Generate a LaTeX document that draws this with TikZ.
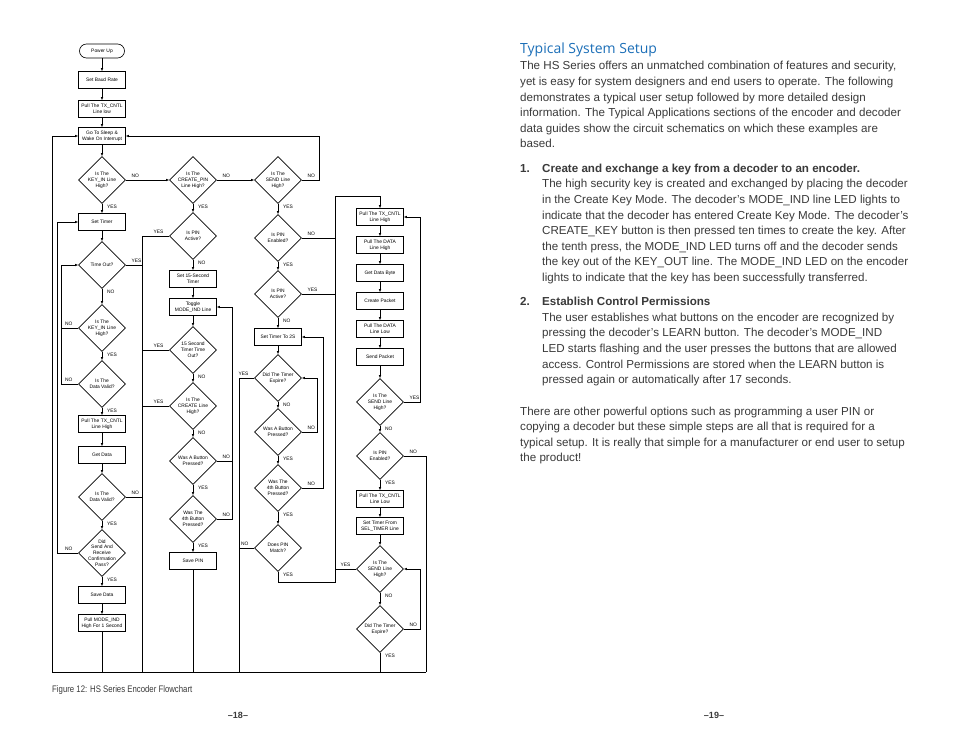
\documentclass[tikz,border=0pt]{standalone}
\usepackage{fontspec}
\setmainfont{Liberation Sans}
\newfontfamily\titlefont{Open Sans}
\newfontfamily\capfont[FakeStretch=0.82]{Liberation Sans}
\usetikzlibrary{shapes.geometric,arrows.meta,positioning}
\definecolor{TitleBlue}{HTML}{1C6FB8}
\definecolor{BodyGray}{HTML}{3A3A3A}

\tikzset{
  chartfont/.style={font=\fontsize{4.9}{5.8}\selectfont},
  procbox/.style={draw, line width=0.65pt, chartfont, align=center,
    minimum width=47pt, minimum height=17pt, inner sep=0.5pt},
  termbox/.style={procbox, rounded corners=7pt, minimum width=45pt, minimum height=14pt},
  decision/.style={diamond, draw, line width=0.65pt, minimum width=47pt,
    minimum height=47pt, inner sep=0pt, label={[chartfont, align=center]center:#1}},
  flow/.style={draw, line width=0.75pt, -{Latex[length=3pt,width=2.6pt]}},
  wire/.style={draw, line width=0.75pt},
  ans/.style={chartfont, inner sep=0.5pt},
  body/.style={inner sep=0pt, align=left, text=BodyGray, font=\fontsize{11.6}{15.6}\selectfont},
}

\begin{document}
\begin{tikzpicture}[x=1pt,y=-1pt]
  \path[fill=white,use as bounding box] (0,0) rectangle (954,738);

  % column 1
  \node[termbox] (pwr) at (102,51) {Power Up};
  \node[procbox] (baud) at (102,80) {Set Baud Rate};
  \node[procbox] (txlow) at (102,109) {Pull The TX\_CNTL\\Line low};
  \node[procbox] (sleep) at (102,136) {Go To Sleep \&\\Wake On Interrupt};
  \node[decision={Is The\\KEY\_IN Line\\High?}] (kin) at (102,180) {};
  \node[procbox] (settmr) at (102,222) {Set Timer};
  \node[decision={Time Out?}] (tout) at (102,265) {};
  \node[decision={Is The\\KEY\_IN Line\\High?}] (kin2) at (102,328) {};
  \node[decision={Is The\\Data Valid?}] (dval) at (102,384) {};
  \node[procbox] (txhigh) at (102,424) {Pull The TX\_CNTL\\Line High};
  \node[procbox] (getdata) at (102,455) {Get Data};
  \node[decision={Is The\\Data Valid?}] (dval2) at (102,497) {};
  \node[decision={Did\\Send And\\Receive\\Confirmation\\Pass?}] (conf) at (102,553) {};
  \node[procbox] (savedata) at (102,595) {Save Data};
  \node[procbox] (modeind) at (102,623) {Pull MODE\_IND\\High For 1 Second};

  % column 2
  \node[decision={Is The\\CREATE\_PIN\\Line High?}] (cpin) at (193,180) {};
  \node[decision={Is PIN\\Active?}] (pact) at (193,236) {};
  \node[procbox] (t15) at (193,279) {Set 15-Second\\Timer};
  \node[procbox] (toggle) at (193,307) {Toggle\\MODE\_IND Line};
  \node[decision={15 Second\\Timer Time\\Out?}] (t15out) at (193,350) {};
  \node[decision={Is The\\CREATE Line\\High?}] (cline) at (193,406) {};
  \node[decision={Was A Button\\Pressed?}] (btn) at (193,461) {};
  \node[decision={Was The\\4th Button\\Pressed?}] (btn4) at (193,519) {};
  \node[procbox] (savepin) at (193,561) {Save PIN};

  % column 3
  \node[decision={Is The\\SEND Line\\High?}] (send) at (278,180) {};
  \node[decision={Is PIN\\Enabled?}] (pen) at (278,238) {};
  \node[decision={Is PIN\\Active?}] (pact3) at (278,294) {};
  \node[procbox] (tmr2) at (278,337) {Set Timer To 2S};
  \node[decision={Did The Timer\\Expire?}] (expire) at (278,378) {};
  \node[decision={Was A Button\\Pressed?}] (btn3) at (278,432) {};
  \node[decision={Was The\\4th Button\\Pressed?}] (btn43) at (278,488) {};
  \node[decision={Does PIN\\Match?}] (match) at (278,548) {};

  % column 4
  \node[procbox] (txh4) at (380,217) {Pull The TX\_CNTL\\Line High};
  \node[procbox] (dhigh) at (380,245) {Pull The DATA\\Line High};
  \node[procbox] (getbyte) at (380,273) {Get Data Byte};
  \node[procbox] (packet) at (380,301) {Create Packet};
  \node[procbox] (dlow) at (380,329) {Pull The DATA\\Line Low};
  \node[procbox] (sendpkt) at (380,357) {Send Packet};
  \node[decision={Is The\\SEND Line\\High?}] (send4) at (380,402) {};
  \node[decision={Is PIN\\Enabled?}] (pen4) at (380,456) {};
  \node[procbox] (txlow4) at (380,499) {Pull The TX\_CNTL\\Line Low};
  \node[procbox] (seltmr) at (380,526) {Set Timer From\\SEL\_TIMER Line};
  \node[decision={Is The\\SEND Line\\High?}] (send42) at (380,569) {};
  \node[decision={Did The Timer\\Expire?}] (expire4) at (380,629) {};

  % frame back to sleep
  \coordinate (frBL) at (52,672);
  \coordinate (frTL) at (52,136);
  \coordinate (frBR) at (426,672);
  \coordinate (exitA) at (142,672);
  \coordinate (exitB) at (239,672);
  \coordinate (sendR) at (319,136);
  \coordinate (sendTop) at (335,196);

  % straight runs
  \foreach \a/\b in {pwr/baud,baud/txlow,txlow/sleep,sleep/kin,kin/settmr,settmr/tout,
      tout/kin2,kin2/dval,dval/txhigh,txhigh/getdata,getdata/dval2,dval2/conf,
      conf/savedata,savedata/modeind,kin/cpin,cpin/send,
      cpin/pact,pact/t15,t15/toggle,toggle/t15out,t15out/cline,cline/btn,btn/btn4,btn4/savepin,
      send/pen,pen/pact3,pact3/tmr2,tmr2/expire,expire/btn3,btn3/btn43,btn43/match,
      txh4/dhigh,dhigh/getbyte,getbyte/packet,packet/dlow,dlow/sendpkt,sendpkt/send4,
      send4/pen4,pen4/txlow4,txlow4/seltmr,seltmr/send42,send42/expire4}
    \draw[flow] (\a) -- (\b);

  \draw[flow] (frBR) -- (frBL) -- (frTL) -- (sleep.west);
  \draw[flow] (send.east) -| (sendR) -- (sleep.east);
  \draw[wire] (pen4.east) -| (frBR);
  \draw[wire] (modeind.south) -- (modeind.south |- frBL);
  \draw[wire] (savepin.south) -- (savepin.south |- frBL);
  \draw[wire] (expire4.south) -- (expire4.south |- frBL);

  % column 1 loops
  \draw[flow] (conf.west) -- ++(-20.5,0) |- (settmr.west);
  \draw[flow] (dval.west) -- ++(-16.5,0) |- (tout.west);
  \draw[wire] (kin2.west) -- ++(-16.5,0);

  % exits to sleep
  \draw[wire] (pact.west) -| (exitA);
  \foreach \d in {t15out,cline} \draw[wire] (\d.west) -- (\d.west -| exitA);
  \foreach \d in {tout,dval2} \draw[wire] (\d.east) -- (\d.east -| exitA);
  \draw[wire] (expire.west) -| (exitB);
  \draw[wire] (match.west) -- (match.west -| exitB);

  % column 2 and 3 loops
  \draw[flow] (btn4.east) -- ++(15.5,0) |- (toggle.east);
  \draw[wire] (btn.east) -- ++(15.5,0);
  \draw[flow] (btn3.east) -- ++(15.5,0) |- (expire.east);
  \draw[flow] (btn43.east) -- ++(21.5,0) |- (tmr2.east);

  % into send packet
  \draw[flow] (match.south) -- ++(0,10.5) -| (sendTop) -| (txh4.north);
  \foreach \d in {pen,pact3} \draw[wire] (\d.east) -- (\d.east -| sendTop);
  \draw[wire] (send42.west) -- (send42.west -| sendTop);
  \draw[flow] (send4.east) -- ++(16.5,0) |- (txh4.east);
  \draw[flow] (expire4.east) -- ++(16.5,0) |- (send42.east);

  % answers
  \foreach \d/\t [count=\i] in {kin/YES,tout/NO,kin2/YES,dval/YES,dval2/YES,conf/YES,
      cpin/YES,pact/NO,t15out/NO,cline/NO,btn/YES,btn4/YES,send/YES,pen/YES,pact3/NO,
      expire/NO,btn3/YES,btn43/YES,match/YES,send4/NO,pen4/YES,send42/NO,expire4/YES}
    \node[ans, anchor=north west] (lb\i) at ([xshift=4.5pt,yshift=-1pt]\d.south) {\t};
  \foreach \d/\t [count=\i] in {kin/NO,tout/YES,dval2/NO,cpin/NO,btn/NO,btn4/NO,send/NO,
      pen/NO,pact3/YES,btn3/NO,btn43/NO,send4/YES,pen4/NO,expire4/NO}
    \node[ans, anchor=south west] (lr\i) at ([xshift=5pt,yshift=1.5pt]\d.east) {\t};
  \foreach \d/\t [count=\i] in {kin2/NO,dval/NO,conf/NO,pact/YES,t15out/YES,cline/YES,
      expire/YES,match/NO,send42/YES}
    \node[ans, anchor=south east] (ll\i) at ([xshift=-5pt,yshift=1.5pt]\d.west) {\t};

  \node[anchor=west, inner sep=0, text=BodyGray, font=\capfont\fontsize{9.5}{11}\selectfont]
    (caption) at (52,690) {Figure 12: HS Series Encoder Flowchart};
  \node[font=\bfseries\fontsize{9}{11}\selectfont, text=BodyGray] (pg18) at (238,715) {–18–};
  \node[font=\bfseries\fontsize{9}{11}\selectfont, text=BodyGray] (pg19) at (714,715) {–19–};

  % text page (multi-line nodes sit on their last baseline)
  \node[anchor=base west, inner sep=0, text=TitleBlue, font=\titlefont\fontsize{14}{16}\selectfont]
    (title) at (520,54) {Typical System Setup};
  \node[body, anchor=base west] (intro) at (520,148) {The HS Series offers an unmatched combination of features and security,\\
    yet is easy for system designers and end users to operate. The following\\
    demonstrates a typical user setup followed by more detailed design\\
    information. The Typical Applications sections of the encoder and decoder\\
    data guides show the circuit schematics on which these examples are\\
    based.};
  \node[body, anchor=base west] (num1) at (520,172.3) {\bfseries 1.};
  \node[body, anchor=base west] (item1) at (542,281.5) {{\bfseries Create and exchange a key from a decoder to an encoder.}\\
    The high security key is created and exchanged by placing the decoder\\
    in the Create Key Mode. The decoder’s MODE\_IND line LED lights to\\
    indicate that the decoder has entered Create Key Mode. The decoder’s\\
    CREATE\_KEY button is then pressed ten times to create the key. After\\
    the tenth press, the MODE\_IND LED turns off and the decoder sends\\
    the key out of the KEY\_OUT line. The MODE\_IND LED on the encoder\\
    lights to indicate that the key has been successfully transferred.};
  \node[body, anchor=base west] (num2) at (520,305.7) {\bfseries 2.};
  \node[body, anchor=base west] (item2) at (542,383.7) {{\bfseries Establish Control Permissions}\\
    The user establishes what buttons on the encoder are recognized by\\
    pressing the decoder's LEARN button. The decoder’s MODE\_IND\\
    LED starts flashing and the user presses the buttons that are allowed\\
    access. Control Permissions are stored when the LEARN button is\\
    pressed again or automatically after 17 seconds.};
  \node[body, anchor=base west] (outro) at (520,461.8) {There are other powerful options such as programming a user PIN or\\
    copying a decoder but these simple steps are all that is required for a\\
    typical setup. It is really that simple for a manufacturer or end user to setup\\
    the product!};
\end{tikzpicture}
\end{document}
